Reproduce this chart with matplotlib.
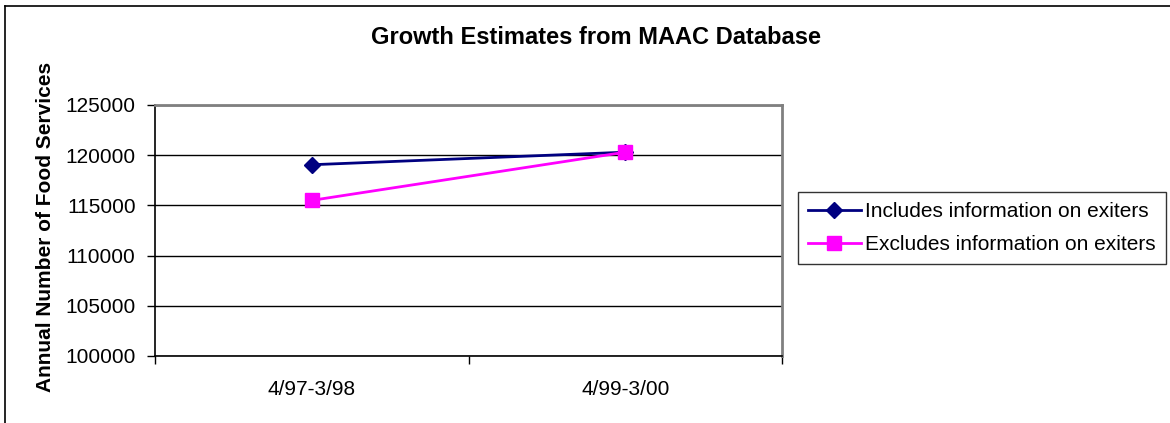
import matplotlib
matplotlib.use("Agg")
import matplotlib.pyplot as plt
from matplotlib.lines import Line2D

plt.rcParams["font.family"] = ["Liberation Sans", "DejaVu Sans"]

periods = ["4/97-3/98", "4/99-3/00"]
includes = [119050, 120300]
excludes = [115500, 120300]
series_names = ["Includes information on exiters", "Excludes information on exiters"]
yticks = [100000, 105000, 110000, 115000, 120000, 125000]

W, H = 1170, 423
FS = 15
fig = plt.figure(figsize=(W / 100, H / 100), dpi=100)
fig.patch.set_facecolor("white")

ax = fig.add_axes([155 / W, 1 - 356 / H, (782 - 155) / W, (356 - 105) / H])
x = [1, 2]
ax.plot(x, includes, color="#000080", lw=2, marker="D", ms=8.5, mfc="#000080", mec="#000080",
        label=series_names[0], zorder=4)
ax.plot(x, excludes, color="#ff00ff", lw=2, marker="s", ms=10.5, mfc="#ff00ff", mec="#ff00ff",
        label=series_names[1], zorder=5)

ax.set_xlim(0.5, 2.5)
ax.set_ylim(yticks[0], yticks[-1])
ax.set_yticks(yticks)
ax.set_yticklabels([str(v) for v in yticks], fontsize=FS)
ax.set_xticks(x)
ax.set_xticklabels(periods, fontsize=FS)
ax.set_xticks([0.5, 1.5, 2.5], minor=True)
ax.tick_params(axis="x", which="major", length=0, pad=17)
ax.tick_params(axis="x", which="minor", length=6, width=1, direction="out", color="black")
ax.tick_params(axis="y", length=6, width=1, direction="out", color="black", pad=8)
ax.grid(axis="y", color="black", lw=1)
ax.set_axisbelow(True)
for s in ("left", "bottom"):
    ax.spines[s].set_color("black")
    ax.spines[s].set_linewidth(1.2)
for s in ("top", "right"):
    ax.spines[s].set_color("#808080")
    ax.spines[s].set_linewidth(2)

fig.text(596 / W, 1 - 37 / H, "Growth Estimates from MAAC Database",
         ha="center", va="center", fontsize=17, fontweight="bold")
fig.text(46 / W, 1 - 227 / H, "Annual Number of Food Services", rotation=90,
         ha="center", va="center", fontsize=FS, fontweight="bold")

leg = fig.legend(loc="upper left", bbox_to_anchor=(798 / W, 1 - 192 / H), fontsize=FS,
                 frameon=True, fancybox=False, edgecolor="black", borderpad=0.5,
                 handlelength=2.5, handletextpad=0.2, labelspacing=0.65, borderaxespad=0)
leg.get_frame().set_linewidth(1)

# outer chart border
fig.add_artist(Line2D([5 / W, 5 / W], [0, 1 - 6 / H], color="black", lw=1.2, transform=fig.transFigure))
fig.add_artist(Line2D([5 / W, 1], [1 - 6 / H, 1 - 6 / H], color="black", lw=1.2, transform=fig.transFigure))

fig.savefig("out.png", dpi=100, facecolor="white")
